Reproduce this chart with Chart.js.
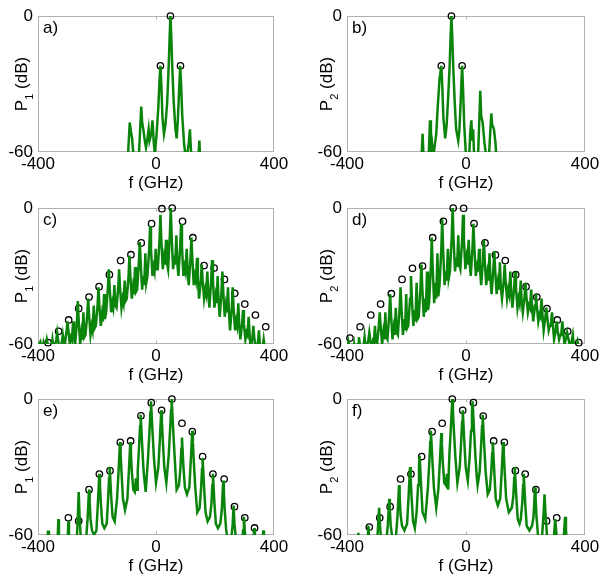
<!DOCTYPE html>
<html>
<head>
<meta charset="utf-8">
<script src="https://cdn.jsdelivr.net/npm/chart.js@4.4.1/dist/chart.umd.min.js"></script>
<style>
  html, body { margin: 0; padding: 0; background: #fff; overflow: hidden; }
  #lienzo { position: relative; width: 603px; height: 574px; }
  canvas { position: absolute; }
</style>
</head>
<body>
<div id="lienzo">
  <canvas id="panelA" width="300" height="200" style="left:0px;top:0px"></canvas>
  <canvas id="panelB" width="303" height="200" style="left:300px;top:0px"></canvas>
  <canvas id="panelC" width="300" height="200" style="left:0px;top:192px"></canvas>
  <canvas id="panelD" width="303" height="200" style="left:300px;top:192px"></canvas>
  <canvas id="panelE" width="300" height="200" style="left:0px;top:383px"></canvas>
  <canvas id="panelF" width="303" height="200" style="left:300px;top:383px"></canvas>
</div>
<script>
// Ejes comunes
const ticksX = [-400, 0, 400];
const ticksY = [-60, 0];

// Espectros (f en GHz, P en dB)
const lineaA = [[-96,-64],[-89,-47],[-85,-51],[-81,-54],[-75,-64],[-59,-64],[-53,-48],[-50,-40],[-47,-47],[-43,-50],[-38,-55],[-34,-58],[-28,-53],[-25,-50],[-22,-55],[-16,-52],[-12,-46],[-8,-55],[-4,-61],[2,-52],[8,-40],[12,-28],[15,-22],[18,-30],[22,-45],[27,-52],[32,-48],[38,-38],[43,-22],[46,-10],[49,0],[52,-10],[55,-22],[60,-38],[66,-50],[70,-54],[74,-46],[78,-34],[82,-22],[85,-30],[89,-44],[95,-56],[100,-62],[107,-60],[111,-56],[115,-50],[118,-58],[121,-64],[143,-64],[147,-55],[150,-64]];
const circulosA = [[15,-22],[49,0],[83,-22]];

const lineaB = [[-150,-64],[-146,-52],[-142,-64],[-126,-64],[-121,-46],[-118,-60],[-114,-57],[-111,-64],[-106,-58],[-100,-52],[-95,-40],[-89,-28],[-83,-22],[-80,-30],[-76,-45],[-70,-54],[-65,-48],[-60,-36],[-55,-22],[-52,-10],[-49,0],[-46,-10],[-43,-22],[-38,-38],[-33,-50],[-26,-55],[-22,-50],[-18,-38],[-15,-28],[-13,-22],[-10,-32],[-6,-48],[0,-62],[10,-64],[14,-52],[18,-46],[21,-55],[24,-50],[28,-64],[40,-64],[45,-45],[48,-33],[51,-44],[56,-47],[62,-56],[70,-64],[78,-60],[82,-50],[85,-43],[88,-48],[94,-50],[99,-56],[103,-64]];
const circulosB = [[-83,-22],[-49,0],[-13,-22]];

const lineaC = [[-400,-61],[-392,-59],[-386,-63],[-382,-60],[-379,-63],[-373,-60],[-370,-58],[-367,-60],[-362,-63],[-358,-61],[-355,-62],[-351,-58],[-348,-61],
  [-344,-62],[-338,-58],[-335,-55],[-332,-58],[-327,-62],[-323,-61],[-320,-60],[-316,-56],[-313,-59],
  [-309,-60],[-303,-54],[-300,-50],[-297,-54],[-292,-60],[-288,-57],[-285,-58],[-281,-50],[-278,-57],
  [-274,-60],[-268,-50],[-265,-41],[-262,-50],[-257,-60],[-253,-55],[-250,-58],[-246,-46],[-243,-57],
  [-239,-56],[-233,-47],[-230,-40],[-227,-47],[-222,-56],[-218,-52],[-215,-54],[-211,-43],[-208,-53],
  [-204,-52],[-198,-43],[-195,-35],[-192,-43],[-187,-52],[-183,-47],[-180,-50],[-176,-38],[-173,-49],
  [-169,-46],[-163,-35],[-160,-27],[-157,-35],[-152,-46],[-148,-42],[-145,-44],[-141,-34],[-138,-43],
  [-134,-44],[-128,-35],[-125,-27],[-122,-35],[-117,-44],[-113,-40],[-110,-42],[-106,-32],[-103,-41],
  [-99,-40],[-93,-30],[-90,-21],[-87,-30],[-82,-40],[-78,-35],[-75,-38],[-71,-26],[-68,-37],
  [-64,-36],[-58,-24],[-55,-15],[-52,-24],[-47,-36],[-43,-30],[-40,-34],[-36,-20],[-33,-33],
  [-29,-30],[-23,-18],[-20,-8],[-17,-18],[-12,-30],[-8,-26],[-5,-28],[-1,-18],[2,-27],
  [6,-27],[12,-14],[15,-3],[18,-14],[23,-27],[27,-22],[30,-25],[34,-14],[37,-24],
  [41,-27],[47,-12],[50,0],[53,-12],[58,-27],[62,-21],[65,-25],[69,-12],[72,-24],
  [76,-30],[82,-17],[85,-7],[88,-17],[93,-30],[97,-26],[100,-28],[104,-18],[107,-27],
  [111,-34],[117,-22],[120,-13],[123,-22],[128,-34],[132,-30],[135,-32],[139,-22],[142,-31],
  [146,-40],[152,-32],[155,-25],[158,-32],[163,-40],[167,-36],[170,-38],[174,-28],[177,-37],
  [181,-44],[187,-32],[190,-23],[193,-32],[198,-44],[202,-39],[205,-42],[209,-30],[212,-41],
  [216,-48],[222,-37],[225,-28],[228,-37],[233,-48],[237,-43],[240,-46],[244,-35],[247,-45],
  [251,-54],[257,-44],[260,-35],[263,-44],[268,-54],[272,-50],[275,-52],[279,-42],[282,-51],
  [286,-58],[292,-51],[295,-45],[298,-51],[303,-58],[307,-55],[310,-56],[314,-48],[317,-55],
  [321,-62],[327,-57],[330,-52],[333,-57],[338,-62],[342,-60],[345,-60],[349,-54],[352,-60],
  [356,-64],[362,-61],[365,-58],[368,-61],[374,-65]];
const circulosC = [[-366,-59.4],[-330,-54.4],[-296,-49.4],[-262,-44.3],[-227,-39.3],[-193,-34.7],[-158,-29.4],[-120,-23.2],[-85,-20.6],[-50,-15.4],[-15,-6.9],[20,-0.3],[55,0],[90,-5.9],[125,-13.1],[163,-25.4],[197,-26.5],[232,-31.5],[267,-37.6],[301,-42.4],[337,-47.2],[372,-52.4]];

const lineaD = [[-400,-62],[-398,-61],[-395,-59],[-392,-61],[-387,-64],[-383,-62],[-380,-63],[-376,-60],[-373,-63],
  [-369,-63],[-363,-60],[-360,-57],[-357,-60],[-352,-63],[-348,-62],[-345,-62],[-341,-57],[-338,-61],
  [-334,-62],[-328,-58],[-325,-55],[-322,-58],[-317,-62],[-313,-59],[-310,-60],[-306,-52],[-303,-59],
  [-299,-60],[-293,-52],[-290,-46],[-287,-52],[-282,-60],[-278,-55],[-275,-58],[-271,-46],[-268,-57],
  [-264,-58],[-258,-47],[-255,-38],[-252,-47],[-247,-58],[-243,-53],[-240,-56],[-236,-44],[-233,-55],
  [-229,-56],[-223,-44],[-220,-35],[-217,-44],[-212,-56],[-208,-49],[-205,-54],[-201,-38],[-198,-53],
  [-194,-52],[-188,-40],[-185,-30],[-182,-40],[-177,-52],[-173,-45],[-170,-50],[-166,-33],[-163,-49],
  [-159,-48],[-153,-35],[-150,-25],[-147,-35],[-142,-48],[-138,-40],[-135,-46],[-131,-28],[-128,-45],
  [-124,-42],[-118,-26],[-115,-13],[-112,-26],[-107,-42],[-103,-33],[-100,-40],[-96,-20],[-93,-39],
  [-89,-34],[-83,-18],[-80,-5],[-77,-18],[-72,-34],[-68,-28],[-65,-32],[-61,-18],[-58,-31],
  [-54,-28],[-48,-13],[-45,0],[-42,-13],[-37,-28],[-33,-22],[-30,-26],[-26,-12],[-23,-25],
  [-19,-27],[-13,-14],[-10,-3],[-7,-14],[-2,-27],[2,-22],[5,-25],[9,-14],[12,-24],
  [16,-30],[22,-17],[25,-7],[28,-17],[33,-30],[37,-26],[40,-28],[44,-18],[47,-27],
  [51,-34],[57,-23],[60,-14],[63,-23],[68,-34],[72,-29],[75,-32],[79,-20],[82,-31],
  [86,-38],[92,-27],[95,-19],[98,-27],[103,-38],[107,-33],[110,-36],[114,-24],[117,-35],
  [121,-40],[127,-32],[130,-25],[133,-32],[138,-40],[142,-36],[145,-38],[149,-28],[152,-37],
  [156,-44],[162,-35],[165,-28],[168,-35],[173,-44],[177,-40],[180,-42],[184,-32],[187,-41],
  [191,-46],[197,-39],[200,-33],[203,-39],[208,-46],[212,-43],[215,-44],[219,-36],[222,-43],
  [226,-50],[232,-43],[235,-38],[238,-43],[243,-50],[247,-47],[250,-48],[254,-40],[257,-47],
  [261,-54],[267,-48],[270,-44],[273,-48],[278,-54],[282,-52],[285,-52],[289,-46],[292,-51],
  [296,-58],[302,-54],[305,-50],[308,-54],[313,-58],[317,-56],[320,-56],[324,-50],[327,-55],
  [331,-60],[337,-57],[340,-55],[343,-57],[348,-60],[352,-60],[355,-59],[359,-56],[362,-60],
  [366,-64],[372,-61],[375,-59],[378,-61],[384,-65]];
const circulosD = [[-390,-57.4],[-356,-52.4],[-320,-47.2],[-287,-42.4],[-251,-37.8],[-215,-31.5],[-180,-26.6],[-146,-25.6],[-112,-13.1],[-76,-5.9],[-43,0],[-8,-0.1],[27,-6.9],[64,-15.4],[99,-20.7],[132,-23.2],[167,-29.4],[202,-34.7],[238,-39.3],[272,-44.4],[307,-49.4],[342,-54.4],[379,-59.4]];

const lineaE = [[-400,-66],[-369,-66],[-366,-58],[-363,-66],
  [-336,-66],[-333,-60],[-331,-53],[-329,-60],[-326,-66],
  [-302,-66],[-299,-60],[-297,-54],[-295,-60],[-292,-66],
  [-270,-66],[-265,-52],[-262,-41],[-259,-52],[-254,-64],[-244,-66],
  [-237,-62],[-232,-53],[-229,-45],[-227,-40],[-225,-45],[-222,-53],[-217,-58],[-210,-60],
  [-202,-58],[-197,-46],[-194,-38],[-192,-33],[-190,-38],[-187,-46],[-182,-55],[-175,-57],
  [-167,-55],[-162,-43],[-159,-35],[-157,-30],[-155,-35],[-152,-43],[-147,-52],[-140,-54],
  [-132,-44],[-127,-32],[-124,-24],[-122,-19],[-120,-24],[-117,-32],[-112,-44],[-105,-49],
  [-97,-44],[-92,-32],[-89,-24],[-87,-19],[-85,-24],[-82,-32],[-77,-40],[-72,-41],[-68,-35],[-64,-40],
  [-62,-32],[-57,-20],[-54,-12],[-52,-7],[-50,-12],[-47,-20],[-42,-32],[-35,-41],
  [-27,-26],[-22,-14],[-19,-6],[-17,-1],[-15,-6],[-12,-14],[-7,-26],[0,-37],
  [8,-30],[13,-18],[16,-10],[18,-5],[20,-10],[23,-18],[28,-30],[35,-37],
  [43,-25],[48,-13],[51,-5],[53,0],[55,-5],[58,-13],[63,-25],[67,-34],[70,-40],
  [78,-38],[83,-30],[86,-22],[88,-17],[90,-22],[93,-30],[98,-39],[105,-42],
  [113,-39],[118,-27],[121,-19],[123,-14],[125,-19],[128,-27],[133,-39],[140,-50],
  [148,-48],[153,-39],[156,-31],[158,-26],[160,-31],[163,-39],[168,-50],[175,-54],
  [183,-52],[188,-46],[191,-38],[193,-33],[195,-38],[198,-46],[203,-55],[210,-57],
  [218,-55],[223,-49],[226,-41],[228,-36],[230,-41],[233,-49],[238,-58],[245,-63],
  [255,-62],[260,-55],[263,-47],[266,-55],[271,-62],[280,-66],
  [292,-64],[295,-58],[298,-52],[301,-58],[305,-64],[315,-66],
  [328,-66],[331,-61],[333,-57],[335,-61],[338,-66],
  [360,-66],[362,-61],[364,-58],[366,-61],[368,-66],[400,-66]];
const circulosE = [[-297,-52.4],[-262,-53.8],[-227,-40.0],[-192,-33.1],[-156,-31.6],[-121,-19.1],[-86,-18.5],[-51,-7.4],[-16,-1.6],[19,-5.0],[54,0],[88,-10.7],[123,-14.4],[158,-25.4],[193,-33.1],[231,-35.3],[266,-47.5],[301,-52.4],[334,-56.9]];

const lineaF = [[-400,-66],[-365,-66],[-362,-59],[-359,-66],
  [-332,-66],[-330,-61],[-328,-56],[-326,-61],[-323,-66],
  [-300,-66],[-296,-57],[-292,-48],[-289,-56],[-284,-64],[-275,-65],
  [-268,-63],[-263,-56],[-260,-49],[-258,-44],[-256,-49],[-253,-56],[-248,-61],[-241,-62],
  [-235,-60],[-230,-51],[-227,-43],[-225,-38],[-223,-43],[-220,-51],[-215,-56],[-207,-58],
  [-198,-55],[-193,-43],[-190,-35],[-188,-30],[-186,-35],[-183,-43],[-178,-54],[-172,-57],
  [-166,-50],[-161,-38],[-158,-30],[-156,-25],[-154,-30],[-151,-38],[-146,-50],[-137,-53],
  [-128,-39],[-123,-27],[-120,-19],[-118,-14],[-116,-19],[-113,-27],[-108,-39],[-100,-48],
  [-93,-40],[-88,-28],[-85,-20],[-83,-15],[-81,-20],[-78,-28],[-73,-37],[-68,-38],[-64,-33],[-60,-40],
  [-56,-25],[-51,-13],[-48,-5],[-46,0],[-44,-5],[-41,-13],[-36,-25],[-29,-37],
  [-21,-30],[-16,-18],[-13,-10],[-11,-5],[-9,-10],[-6,-18],[-1,-30],[6,-36],
  [12,-26],[17,-14],[20,-6],[22,-1],[24,-6],[27,-14],[32,-26],[36,-34],[39,-38],
  [46,-32],[51,-20],[54,-12],[56,-7],[58,-12],[61,-20],[66,-32],[73,-42],
  [80,-40],[85,-32],[88,-24],[90,-19],[92,-24],[95,-32],[100,-44],[107,-47],
  [115,-44],[120,-32],[123,-24],[125,-19],[127,-24],[130,-32],[135,-44],[144,-50],
  [154,-48],[159,-43],[162,-35],[164,-30],[166,-35],[169,-43],[174,-53],[180,-55],
  [184,-53],[189,-46],[192,-38],[194,-33],[196,-38],[199,-46],[204,-56],[213,-58],
  [222,-56],[227,-52],[230,-44],[232,-39],[234,-44],[237,-52],[242,-60],[248,-62],
  [256,-60],[261,-50],[264,-42],[267,-50],[272,-60],[282,-66],
  [294,-64],[297,-58],[300,-53],[303,-58],[307,-64],[318,-66],
  [327,-64],[330,-58],[333,-52],[336,-58],[340,-64],[345,-66],[400,-66]];
const circulosF = [[-325,-56.5],[-290,-52.4],[-255,-47.5],[-220,-35.3],[-185,-33.1],[-149,-25.4],[-114,-14.4],[-80,-10.7],[-46,0],[-11,-5.0],[25,-1.6],[58,-7.5],[93,-18.5],[129,-19.1],[166,-31.6],[199,-33.1],[235,-40.0],[271,-53.8],[305,-52.4]];

const verde = "#0b840b";
const fuente = "'Liberation Sans', Arial, sans-serif";

function aPuntos(pares) {
  return pares.map(p => ({ x: p[0], y: p[1] }));
}

// Marco gris, etiqueta del panel y etiqueta del eje Y con subíndice
const pluginMarco = {
  id: "marco",
  beforeDatasetsDraw(chart, args, opts) {
    const { ctx, chartArea: a } = chart;
    const l = Math.round(a.left) + 0.5, t = Math.round(a.top) + 0.5;
    const r = Math.round(a.right) - 0.5, b = Math.round(a.bottom) - 0.5;
    ctx.save();
    ctx.strokeStyle = "#b0b0b0";
    ctx.lineWidth = 1;
    ctx.strokeRect(l, t, r - l, b - t);
    const x0 = Math.round(chart.scales.x.getPixelForValue(0)) + 0.5;
    ctx.beginPath();
    ctx.moveTo(x0, t); ctx.lineTo(x0, t + 3);
    ctx.moveTo(x0, b); ctx.lineTo(x0, b - 3);
    ctx.stroke();
    ctx.restore();
  },
  afterDraw(chart, args, opts) {
    const { ctx, chartArea: a } = chart;
    ctx.save();
    ctx.fillStyle = "#000";
    ctx.font = "17px " + fuente;
    ctx.textBaseline = "alphabetic";
    ctx.textAlign = "left";
    ctx.fillText(opts.etiqueta, a.left + 5, a.top + 17);

    // Etiqueta Y: P_n (dB), girada
    const fGrande = "17px " + fuente;
    const fSub = "11px " + fuente;
    ctx.font = fGrande;
    const wP = ctx.measureText("P").width;
    const wResto = ctx.measureText(" (dB)").width;
    ctx.font = fSub;
    const wSub = ctx.measureText(opts.sub).width;
    const total = wP + wSub + wResto;
    const cy = (a.top + a.bottom) / 2;
    ctx.translate(a.left - opts.sepY, cy);
    ctx.rotate(-Math.PI / 2);
    let x = -total / 2;
    ctx.font = fGrande;
    ctx.fillText("P", x, 0);
    x += wP;
    ctx.font = fSub;
    ctx.fillText(opts.sub, x, 6);
    x += wSub;
    ctx.font = fGrande;
    ctx.fillText(" (dB)", x, 0);
    ctx.restore();
  }
};

function crearPanel(id, etiqueta, sub, linea, circulos, derecha) {
  const ctx = document.getElementById(id).getContext("2d");
  const anchoY = derecha ? 47 : 38;
  return new Chart(ctx, {
    type: "line",
    data: {
      datasets: [{
        data: aPuntos(linea),
        borderColor: verde,
        borderWidth: 2.5,
        pointRadius: 0,
        tension: 0,
        clip: 0
      }, {
        data: aPuntos(circulos),
        showLine: false,
        pointRadius: 3.2,
        pointBorderWidth: 1.3,
        pointBorderColor: "#000",
        pointBackgroundColor: "rgba(0,0,0,0)",
        clip: false
      }]
    },
    options: {
      responsive: false,
      animation: false,
      events: [],
      layout: { padding: { top: 16, right: derecha ? 18 : 26, left: 0, bottom: 0 } },
      plugins: {
        legend: { display: false },
        tooltip: { enabled: false },
        marco: { etiqueta: etiqueta, sub: sub, sepY: derecha ? 15 : 11 }
      },
      scales: {
        x: {
          type: "linear",
          min: ticksX[0],
          max: ticksX[ticksX.length - 1],
          grid: { display: false, drawTicks: false },
          border: { display: false },
          afterBuildTicks: s => { s.ticks = ticksX.map(v => ({ value: v })); },
          ticks: { padding: 2, color: "#000", maxRotation: 0, autoSkip: false, font: { family: fuente, size: 17 } },
          title: { display: true, text: "f (GHz)", color: "#000", font: { family: fuente, size: 17 }, padding: { top: 0, bottom: 6 } },
          afterFit: s => { s.height = 48; }
        },
        y: {
          type: "linear",
          min: ticksY[0],
          max: ticksY[ticksY.length - 1],
          grid: { display: false, drawTicks: false },
          border: { display: false },
          afterBuildTicks: s => { s.ticks = ticksY.map(v => ({ value: v })); },
          ticks: { padding: 5, color: "#000", font: { family: fuente, size: 17 } },
          afterFit: s => { s.width = anchoY; }
        }
      }
    },
    plugins: [pluginMarco]
  });
}

document.addEventListener("DOMContentLoaded", () => {
  crearPanel("panelA", "a)", "1", lineaA, circulosA, false);
  crearPanel("panelB", "b)", "2", lineaB, circulosB, true);
  crearPanel("panelC", "c)", "1", lineaC, circulosC, false);
  crearPanel("panelD", "d)", "2", lineaD, circulosD, true);
  crearPanel("panelE", "e)", "1", lineaE, circulosE, false);
  crearPanel("panelF", "f)", "2", lineaF, circulosF, true);
});
</script>
</body>
</html>
